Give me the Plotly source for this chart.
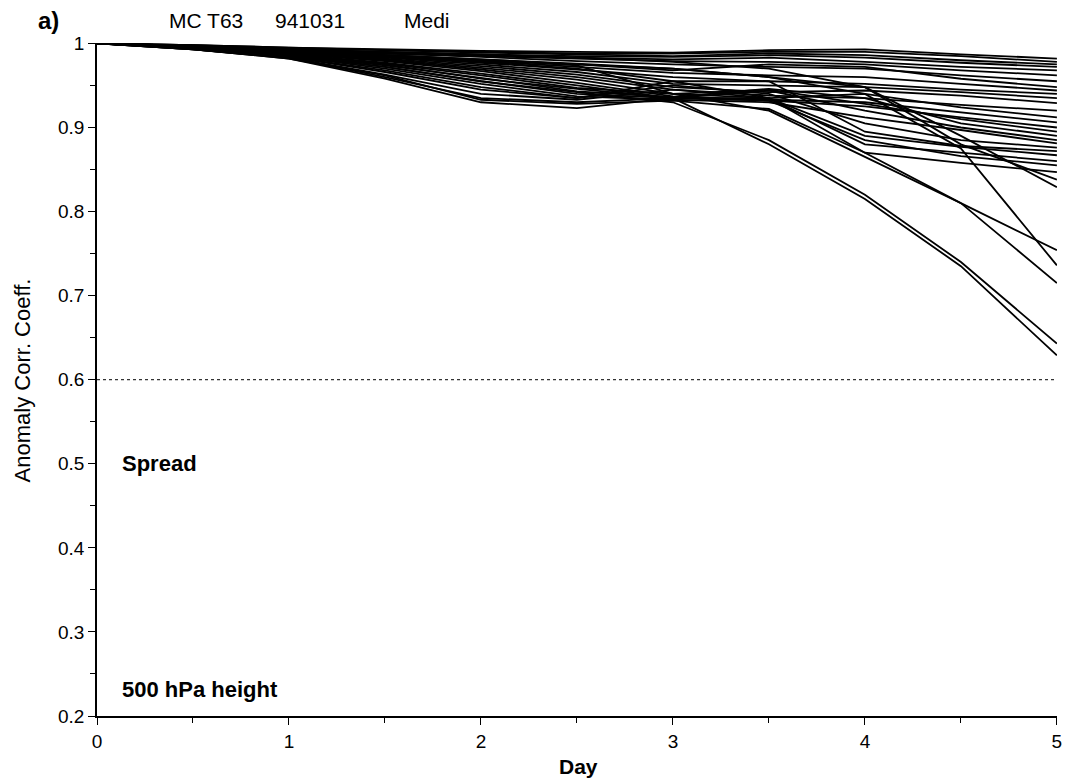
import plotly.graph_objects as go

days = [0, 0.5, 1, 1.5, 2, 2.5, 3, 3.5, 4, 4.5, 5]

members = [
    [1, .998, .995, .993, .991, .990, .989, .992, .993, .987, .982],
    [1, .998, .994, .992, .990, .988, .988, .990, .990, .985, .978],
    [1, .998, .995, .992, .989, .987, .985, .988, .986, .980, .975],
    [1, .997, .993, .990, .987, .985, .984, .986, .983, .977, .972],
    [1, .997, .993, .989, .986, .983, .981, .983, .978, .972, .968],
    [1, .997, .992, .988, .985, .982, .979, .978, .975, .968, .962],
    [1, .997, .992, .988, .984, .979, .975, .972, .970, .962, .955],
    [1, .996, .991, .986, .981, .975, .968, .975, .972, .958, .948],
    [1, .996, .991, .985, .979, .972, .965, .962, .960, .952, .944],
    [1, .996, .990, .984, .977, .969, .960, .955, .952, .945, .940],
    [1, .996, .990, .983, .975, .966, .952, .950, .948, .942, .935],
    [1, .996, .989, .982, .973, .963, .948, .942, .944, .938, .929],
    [1, .995, .989, .981, .971, .960, .945, .938, .935, .927, .920],
    [1, .995, .988, .980, .969, .957, .940, .935, .940, .924, .912],
    [1, .995, .988, .979, .967, .953, .937, .933, .930, .918, .906],
    [1, .995, .987, .977, .964, .950, .935, .932, .925, .912, .900],
    [1, .995, .987, .976, .962, .947, .940, .945, .928, .910, .895],
    [1, .995, .986, .974, .959, .943, .936, .946, .935, .905, .890],
    [1, .994, .985, .972, .955, .940, .935, .944, .920, .900, .885],
    [1, .994, .985, .970, .952, .937, .933, .930, .912, .897, .881],
    [1, .994, .984, .968, .948, .935, .950, .940, .905, .885, .876],
    [1, .994, .984, .966, .945, .935, .955, .955, .895, .878, .872],
    [1, .993, .983, .963, .940, .933, .945, .935, .890, .877, .867],
    [1, .993, .983, .960, .935, .930, .935, .935, .880, .870, .860],
    [1, .993, .982, .958, .930, .923, .935, .932, .885, .866, .855],
    [1, .993, .982, .962, .933, .928, .932, .922, .870, .858, .847],
    [1, .996, .990, .985, .980, .975, .970, .960, .948, .880, .838],
    [1, .997, .993, .990, .987, .983, .978, .970, .948, .890, .829],
    [1, .996, .990, .984, .978, .970, .955, .935, .870, .810, .754],
    [1, .996, .991, .986, .981, .976, .970, .960, .940, .875, .736],
    [1, .996, .991, .986, .980, .974, .940, .920, .865, .810, .715],
    [1, .995, .986, .972, .955, .942, .930, .885, .820, .740, .643],
    [1, .995, .987, .975, .958, .946, .935, .880, .815, .735, .629],
]

threshold = 0.6
y_ticks = [0.2, 0.3, 0.4, 0.5, 0.6, 0.7, 0.8, 0.9, 1.0]
y_labels = ["0.2", "0.3", "0.4", "0.5", "0.6", "0.7", "0.8", "0.9", "1"]
x_ticks = [0, 1, 2, 3, 4, 5]

FONT = "Liberation Sans, Arial, Helvetica, sans-serif"

fig = go.Figure()
for m in members:
    fig.add_trace(go.Scatter(x=days, y=m, mode="lines",
                             line=dict(color="black", width=1.8),
                             showlegend=False, hoverinfo="skip"))

fig.add_trace(go.Scatter(x=[days[0], days[-1]], y=[threshold, threshold], mode="lines",
                         line=dict(color="black", width=1, dash="dot"),
                         showlegend=False, hoverinfo="skip"))

# page has an 8px body margin: figure occupies page x 8..1070, y 8..782
fig.update_layout(
    width=1062, height=774,
    margin=dict(l=89, r=8, t=35, b=66),
    paper_bgcolor="white", plot_bgcolor="white",
    font=dict(family=FONT, color="black", size=19),
    xaxis=dict(range=[0, 5.0005], tickvals=x_ticks, ticktext=[str(t) for t in x_ticks],
               ticks="outside", ticklen=7, tickwidth=1.3, tickcolor="black",
               showline=True, linecolor="black", linewidth=1.8,
               showgrid=False, zeroline=False,
               minor=dict(tickvals=[0.5, 1.5, 2.5, 3.5, 4.5], ticks="outside", ticklen=5,
                          tickcolor="black", showgrid=False),
               tickfont=dict(size=19)),
    yaxis=dict(range=[0.2, 1.0005], tickvals=y_ticks, ticktext=y_labels,
               ticks="outside", ticklen=7, tickwidth=1.3, tickcolor="black",
               showline=True, linecolor="black", linewidth=1.8,
               showgrid=False, zeroline=False,
               minor=dict(dtick=0.05, ticks="outside", ticklen=5, tickcolor="black", showgrid=False),
               tickfont=dict(size=19)),
)

def px_x(p):
    return (p - 97) / 965.0

def px_y(p):
    return (716 - p) / 673.0

annos = [
    dict(text="<b>a)</b>", x=px_x(36), y=px_y(21), xanchor="left", yanchor="middle", size=24),
    dict(text="MC T63", x=px_x(167), y=px_y(21), xanchor="left", yanchor="middle", size=21),
    dict(text="941031", x=px_x(274), y=px_y(21), xanchor="left", yanchor="middle", size=21),
    dict(text="Medi", x=px_x(404), y=px_y(21), xanchor="left", yanchor="middle", size=21),
    dict(text="<b>Day</b>", x=px_x(581), y=px_y(766), xanchor="center", yanchor="middle", size=21),
]
for a in annos:
    fig.add_annotation(text=a["text"], xref="paper", yref="paper", x=a["x"], y=a["y"],
                       xanchor=a["xanchor"], yanchor=a["yanchor"], showarrow=False,
                       font=dict(family=FONT, size=a["size"], color="black"))

fig.add_annotation(text="Anomaly Corr. Coeff.", xref="paper", yref="paper",
                   x=px_x(22), y=px_y(380), textangle=-90, showarrow=False,
                   xanchor="center", yanchor="middle",
                   font=dict(family=FONT, size=22, color="black"))

fig.add_annotation(text="<b>Spread</b>", xref="x", yref="y", x=0.12, y=0.5,
                   xanchor="left", yanchor="middle", showarrow=False,
                   font=dict(family=FONT, size=22, color="black"))
fig.add_annotation(text="<b>500 hPa height</b>", xref="x", yref="y", x=0.12, y=0.231,
                   xanchor="left", yanchor="middle", showarrow=False,
                   font=dict(family=FONT, size=22, color="black"))

fig.write_html("out.html")
